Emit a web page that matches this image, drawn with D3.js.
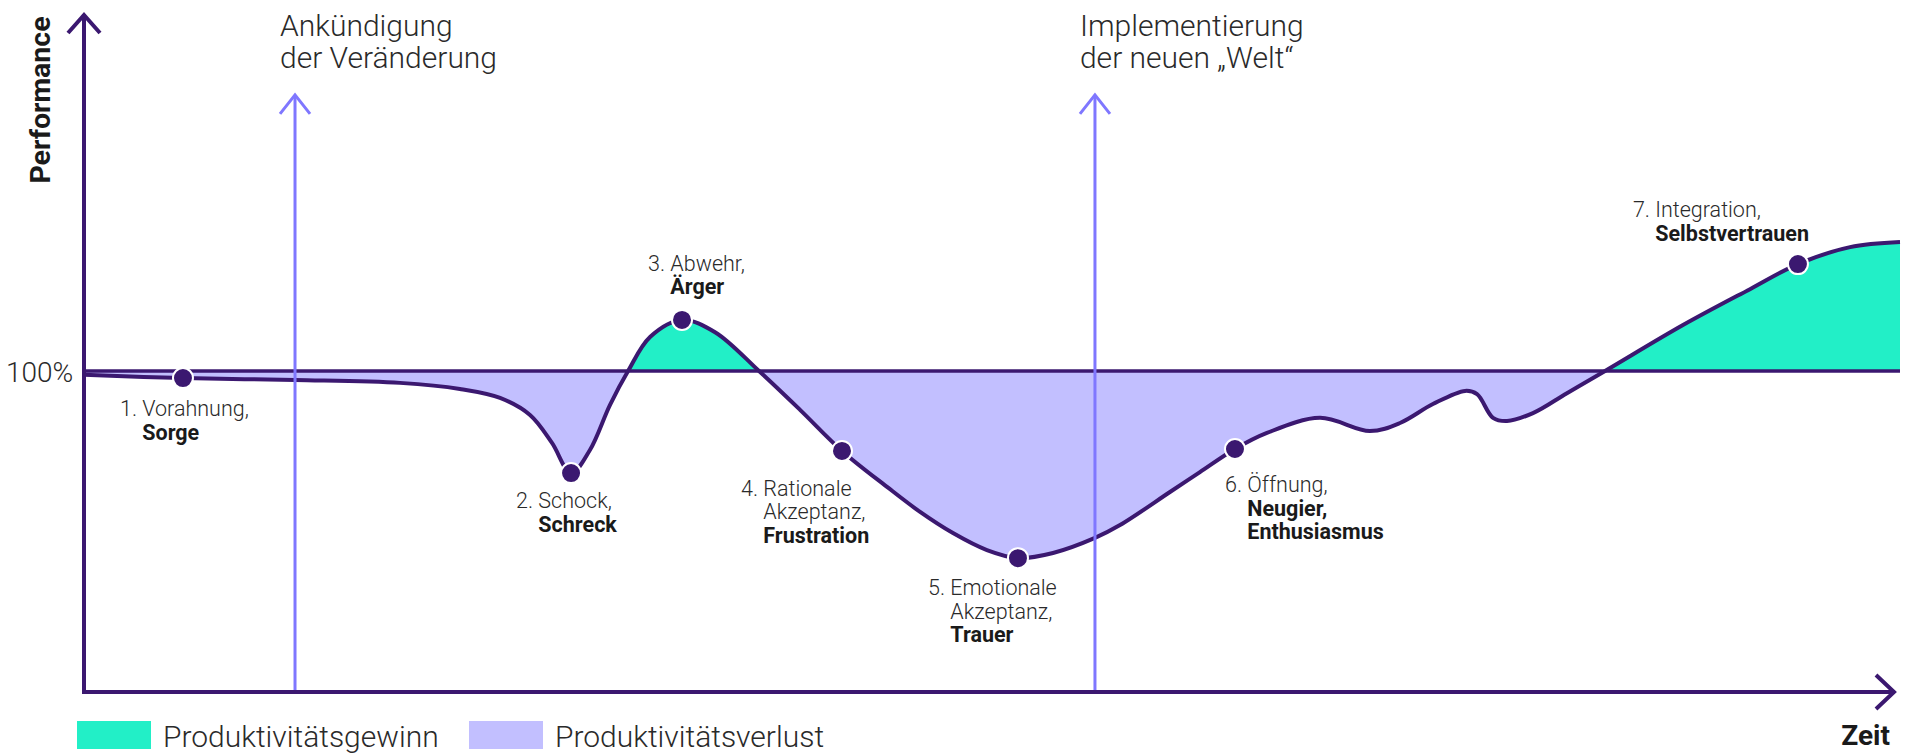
<!DOCTYPE html>
<html>
<head>
<meta charset="utf-8">
<script src="https://cdn.jsdelivr.net/npm/d3@7"></script>
<style>
  html, body { margin: 0; padding: 0; background: #ffffff; }
  svg { display: block; font-family: Roboto, "Noto Sans", sans-serif; }
</style>
</head>
<body>
<svg id="chart" width="1920" height="755"></svg>
<script>
// ---------- data ----------
// Zeit (0..100) and Performance (% , 100 = baseline) along the change curve
const zeit = [0, 5.45, 11.62, 17.40, 20.70, 22.91, 24.56, 25.77, 26.82, 27.86, 28.96, 29.96, 31.17, 32.93, 34.75, 37.17, 39.43, 41.74, 44.22, 46.04, 47.85, 49.72, 51.43, 53.36, 55.67, 57.05, 59.80, 61.45, 63.38, 65.14, 68.06, 70.81, 72.47, 74.28, 76.05, 76.71, 77.59, 78.36, 79.79, 81.66, 83.76, 88.05, 91.74, 94.38, 97.25, 100];
const performance = [98.8, 97.8, 97.2, 96.3, 94.4, 91.6, 86.3, 77.6, 68.2, 75.4, 89.4, 100, 110.6, 115.9, 112.1, 100, 87.9, 75.1, 63.9, 56.1, 49.5, 44.2, 41.7, 43.3, 48.0, 52.0, 62.3, 68.5, 75.7, 80.7, 85.4, 81.3, 83.8, 89.7, 93.8, 92.8, 85.4, 84.4, 86.9, 93.1, 100, 114.3, 125.5, 133.3, 138.6, 140.2];

// phases
const phaseNumbers = ["1.", "2.", "3.", "4.", "5.", "6.", "7."];
const phaseZeit = [5.45, 26.82, 32.93, 41.74, 51.43, 63.38, 94.38];
const phasePerformance = [97.8, 68.2, 115.9, 75.1, 41.7, 75.7, 133.3];
const phaseLightLines = [["Vorahnung,"], ["Schock,"], ["Abwehr,"], ["Rationale", "Akzeptanz,"], ["Emotionale", "Akzeptanz,"], ["Öffnung,"], ["Integration,"]];
const phaseBoldLines = [["Sorge"], ["Schreck"], ["Ärger"], ["Frustration"], ["Trauer"], ["Neugier,", "Enthusiasmus"], ["Selbstvertrauen"]];

// events
const eventZeit = [11.62, 55.67];
const eventLevel = [186, 186];
const eventLabels = [["Ankündigung", "der Veränderung"], ["Implementierung", "der neuen \u201EWelt\u201C"]];

const baselineValue = 100;
const baselineLabel = "100%";
const yAxisTitle = "Performance";
const xAxisTitle = "Zeit";
const legendLabels = ["Produktivitätsgewinn", "Produktivitätsverlust"];

// ---------- layout / style ----------
const W = 1920, H = 755;
const left = 84, right = 1900, axisY = 692, topY = 15, xArrowTip = 1894;
const C_DARK = "#3b1870", C_GAIN = "#22efc7", C_LOSS = "#c2bfff", C_EVENT = "#7f77ff", C_TEXT = "#2a2a2a";
const labelOffsets = [[-63, 38], [-55, 35], [-34, -49], [-101, 45], [-90, 37], [-10, 43], [-165, -47]];
const lineGap = 23.5;

const x = d3.scaleLinear().domain([0, 100]).range([left, right]);
const y = d3.scaleLinear().domain([0, 200]).range([axisY, 50]);

const svg = d3.select("#chart");
const defs = svg.append("defs");
defs.append("clipPath").attr("id", "above").append("rect")
  .attr("x", 0).attr("y", 0).attr("width", W).attr("height", y(baselineValue));
defs.append("clipPath").attr("id", "below").append("rect")
  .attr("x", 0).attr("y", y(baselineValue)).attr("width", W).attr("height", H - y(baselineValue));

const pts = zeit.map((t, i) => ({ t, p: performance[i] }));
const curve = d3.curveCatmullRom.alpha(0.5);
const area = d3.area().x(d => x(d.t)).y0(y(baselineValue)).y1(d => y(d.p)).curve(curve);
const line = d3.line().x(d => x(d.t)).y(d => y(d.p)).curve(curve);

svg.append("path").datum(pts).attr("d", area).attr("fill", C_GAIN).attr("clip-path", "url(#above)");
svg.append("path").datum(pts).attr("d", area).attr("fill", C_LOSS).attr("clip-path", "url(#below)");

// baseline
svg.append("line").attr("x1", left).attr("x2", right)
  .attr("y1", y(baselineValue)).attr("y2", y(baselineValue))
  .attr("stroke", C_DARK).attr("stroke-width", 3.5);

// curve
svg.append("path").datum(pts).attr("d", line).attr("fill", "none")
  .attr("stroke", C_DARK).attr("stroke-width", 4).attr("stroke-linejoin", "round");

// axes
const axes = svg.append("g").attr("stroke", C_DARK).attr("stroke-width", 4).attr("fill", "none")
  .attr("stroke-linecap", "square");
axes.append("line").attr("x1", left).attr("x2", left).attr("y1", axisY).attr("y2", topY + 1);
axes.append("line").attr("x1", left).attr("x2", xArrowTip - 1).attr("y1", axisY).attr("y2", axisY);
axes.append("polyline").attr("points", `${left - 16},${topY + 18} ${left},${topY} ${left + 16},${topY + 18}`)
  .attr("stroke-linecap", "butt");
axes.append("polyline").attr("points", `${xArrowTip - 18},${axisY - 17} ${xArrowTip},${axisY} ${xArrowTip - 18},${axisY + 17}`)
  .attr("stroke-linecap", "butt");

// event arrows
eventZeit.forEach((t, i) => {
  const ex = x(t), ey = y(eventLevel[i]);
  const g = svg.append("g").attr("stroke", C_EVENT).attr("stroke-width", 3).attr("fill", "none");
  g.append("line").attr("x1", ex).attr("x2", ex).attr("y1", axisY - 2).attr("y2", ey + 1);
  g.append("polyline").attr("points", `${ex - 15},${ey + 19} ${ex},${ey} ${ex + 15},${ey + 19}`);
  const tx = svg.append("text").attr("x", ex - 15).attr("y", 36)
    .attr("font-size", 30).attr("font-weight", 300).attr("fill", C_TEXT);
  eventLabels[i].forEach((s, k) => {
    tx.append("tspan").attr("x", ex - 15).attr("dy", k === 0 ? 0 : 32).text(s);
  });
});

// markers
phaseZeit.forEach((t, i) => {
  svg.append("circle").attr("cx", x(t)).attr("cy", y(phasePerformance[i])).attr("r", 10)
    .attr("fill", C_DARK).attr("stroke", "#ffffff").attr("stroke-width", 2);
});

// phase labels
phaseZeit.forEach((t, i) => {
  const px = x(t) + labelOffsets[i][0];
  const py = y(phasePerformance[i]) + labelOffsets[i][1];
  const txt = svg.append("text").attr("x", px).attr("y", py).attr("font-size", 21.5).attr("fill", C_TEXT);
  const num = txt.append("tspan").attr("font-weight", 300).text(phaseNumbers[i] + "\u00A0");
  txt.append("tspan").attr("font-weight", 300).text(phaseLightLines[i][0]);
  const indent = num.node().getComputedTextLength();
  let k = 1;
  phaseLightLines[i].slice(1).forEach(s => {
    txt.append("tspan").attr("x", px + indent).attr("y", py + lineGap * k++).attr("font-weight", 300).text(s);
  });
  phaseBoldLines[i].forEach(s => {
    txt.append("tspan").attr("x", px + indent).attr("y", py + lineGap * k++).attr("font-weight", 700)
      .attr("fill", "#1a1a1a").text(s);
  });
});

// axis labels
svg.append("text").attr("x", 6).attr("y", y(baselineValue) + 11)
  .attr("font-size", 28).attr("font-weight", 300).attr("fill", C_TEXT).text(baselineLabel);
svg.append("text").attr("transform", `translate(50,100) rotate(-90)`).attr("text-anchor", "middle")
  .attr("font-size", 28.5).attr("font-weight", 700).attr("fill", "#1a1a1a").text(yAxisTitle);
svg.append("text").attr("x", 1890).attr("y", 745).attr("text-anchor", "end")
  .attr("font-size", 28).attr("font-weight", 700).attr("fill", "#1a1a1a").text(xAxisTitle);

// legend
const legendColors = [C_GAIN, C_LOSS];
const legendX = [77, 469];
legendLabels.forEach((s, i) => {
  svg.append("rect").attr("x", legendX[i]).attr("y", 721).attr("width", 74).attr("height", 28).attr("fill", legendColors[i]);
  svg.append("text").attr("x", legendX[i] + 86).attr("y", 747).attr("font-size", 30).attr("font-weight", 300)
    .attr("fill", C_TEXT).text(s);
});
</script>
</body>
</html>
